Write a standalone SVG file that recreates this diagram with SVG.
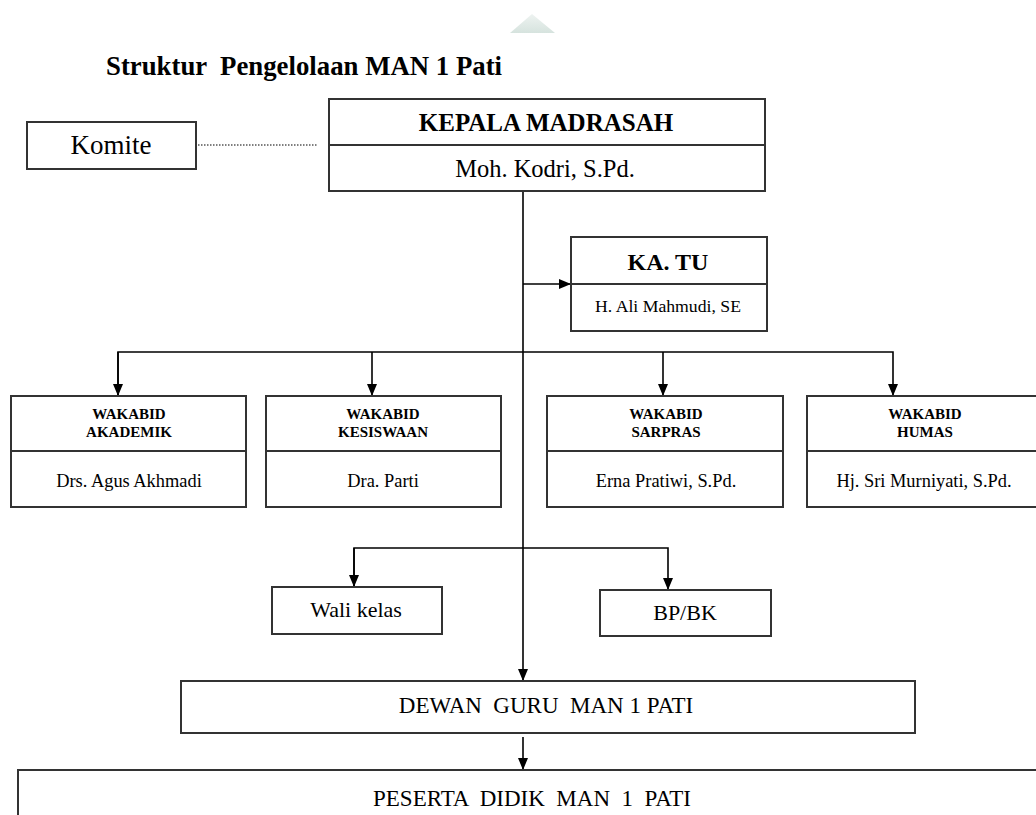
<svg xmlns="http://www.w3.org/2000/svg" width="1036" height="815" viewBox="0 0 1036 815">
<defs>
<marker id="ah" viewBox="0 0 12 10" refX="12" refY="5" markerWidth="12" markerHeight="10" markerUnits="userSpaceOnUse" orient="auto">
<path d="M0,0 L12,5 L0,10 Z" fill="#000"/>
</marker>
<linearGradient id="tri" x1="0" y1="0" x2="0" y2="1">
<stop offset="0" stop-color="#eef3f1"/>
<stop offset="1" stop-color="#d6e3de"/>
</linearGradient>
<style>
.box{fill:#fff;stroke:#333;stroke-width:2}
.div{stroke:#333;stroke-width:2}
.ln{fill:none;stroke:#000;stroke-width:1.6}
.dot{fill:none;stroke:#555;stroke-width:1.4;stroke-dasharray:1.5,1.5}
.t{font-family:"Liberation Serif","Times New Roman",serif;fill:#000;text-anchor:middle}
.b{font-weight:bold}
</style>
</defs>
<rect width="1036" height="815" fill="#fff"/>
<polygon points="510,33 532,14 555,33" fill="url(#tri)"/>
<text x="106" y="75" font-family="Liberation Serif, serif" font-weight="bold" font-size="28" fill="#000" xml:space="preserve" textLength="396" lengthAdjust="spacingAndGlyphs">Struktur  Pengelolaan MAN 1 Pati</text>

<g id="connectors">
<line class="dot" x1="198" y1="145" x2="318" y2="145"/>
<line class="ln" x1="523" y1="191" x2="523" y2="681" marker-end="url(#ah)"/>
<line class="ln" x1="523" y1="284" x2="571" y2="284" marker-end="url(#ah)"/>
<polyline class="ln" points="118,396 118,352 893,352 893,396" marker-end="url(#ah)"/>
<line class="ln" x1="118" y1="352" x2="118" y2="396" marker-end="url(#ah)"/>
<line class="ln" x1="372" y1="352" x2="372" y2="396" marker-end="url(#ah)"/>
<line class="ln" x1="663" y1="352" x2="663" y2="396" marker-end="url(#ah)"/>
<polyline class="ln" points="354,587 354,548 668,548 668,590" marker-end="url(#ah)"/>
<line class="ln" x1="354" y1="548" x2="354" y2="587" marker-end="url(#ah)"/>
<line class="ln" x1="523" y1="737" x2="523" y2="770" marker-end="url(#ah)"/>
</g>

<g id="komite">
<rect class="box" x="27" y="122" width="169" height="47"/>
<text class="t" x="111" y="154" font-size="27">Komite</text>
</g>

<g id="kepala">
<rect class="box" x="329" y="99" width="436" height="92"/>
<line class="div" x1="329" y1="145" x2="765" y2="145"/>
<text class="t b" x="546" y="131" font-size="25">KEPALA MADRASAH</text>
<text class="t" x="545" y="177" font-size="24.5">Moh. Kodri, S.Pd.</text>
</g>

<g id="katu">
<rect class="box" x="571" y="237" width="196" height="94"/>
<line class="div" x1="571" y1="284" x2="767" y2="284"/>
<text class="t b" x="668" y="270" font-size="24">KA. TU</text>
<text class="t" x="668" y="312" font-size="17.7">H. Ali Mahmudi, SE</text>
</g>

<g id="wakabid-akademik">
<rect class="box" x="11" y="396" width="235" height="111"/>
<line class="div" x1="11" y1="451" x2="246" y2="451"/>
<text class="t b" x="129" y="419" font-size="15">WAKABID</text>
<text class="t b" x="129" y="437" font-size="15">AKADEMIK</text>
<text class="t" x="129" y="487" font-size="18.4">Drs. Agus Akhmadi</text>
</g>

<g id="wakabid-kesiswaan">
<rect class="box" x="266" y="396" width="235" height="111"/>
<line class="div" x1="266" y1="451" x2="501" y2="451"/>
<text class="t b" x="383" y="419" font-size="15">WAKABID</text>
<text class="t b" x="383" y="437" font-size="15">KESISWAAN</text>
<text class="t" x="383" y="487" font-size="18.4">Dra. Parti</text>
</g>

<g id="wakabid-sarpras">
<rect class="box" x="547" y="396" width="236" height="111"/>
<line class="div" x1="547" y1="451" x2="783" y2="451"/>
<text class="t b" x="666" y="419" font-size="15">WAKABID</text>
<text class="t b" x="666" y="437" font-size="15">SARPRAS</text>
<text class="t" x="666" y="487" font-size="18.4">Erna Pratiwi, S.Pd.</text>
</g>

<g id="wakabid-humas">
<rect class="box" x="807" y="396" width="240" height="111"/>
<line class="div" x1="807" y1="451" x2="1047" y2="451"/>
<text class="t b" x="925" y="419" font-size="15">WAKABID</text>
<text class="t b" x="925" y="437" font-size="15">HUMAS</text>
<text class="t" x="924" y="487" font-size="18.4">Hj. Sri Murniyati, S.Pd.</text>
</g>

<g id="wali-kelas">
<rect class="box" x="272" y="587" width="170" height="47"/>
<text class="t" x="356" y="617" font-size="22">Wali kelas</text>
</g>

<g id="bpbk">
<rect class="box" x="600" y="590" width="171" height="46"/>
<text class="t" x="685" y="620" font-size="22">BP/BK</text>
</g>

<g id="dewan-guru">
<rect class="box" x="181" y="681" width="734" height="52"/>
<text class="t" x="546" y="713" font-size="23" xml:space="preserve">DEWAN  GURU  MAN 1 PATI</text>
</g>

<g id="peserta-didik">
<rect class="box" x="18" y="770" width="1040" height="60"/>
<text class="t" x="532" y="806" font-size="23" xml:space="preserve">PESERTA  DIDIK  MAN  1  PATI</text>
</g>
</svg>
